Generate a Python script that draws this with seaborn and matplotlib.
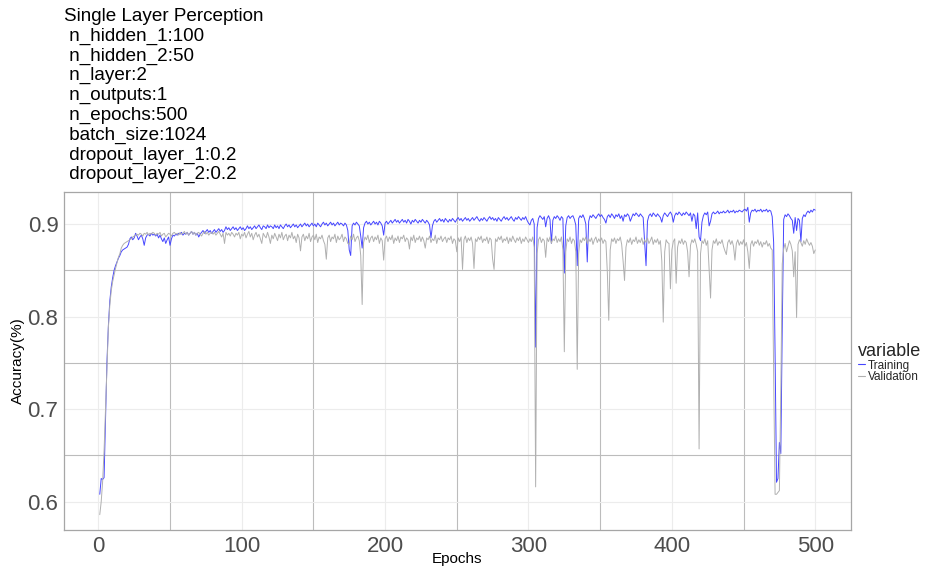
import numpy as np
import pandas as pd
import seaborn as sns
import matplotlib
matplotlib.use('Agg')
import matplotlib.pyplot as plt
from matplotlib.ticker import MultipleLocator
from matplotlib.lines import Line2D

title_lines = [
    'Single Layer Perception',
    ' n_hidden_1:100',
    ' n_hidden_2:50',
    ' n_layer:2',
    ' n_outputs:1',
    ' n_epochs:500',
    ' batch_size:1024',
    ' dropout_layer_1:0.2',
    ' dropout_layer_2:0.2',
]

epochs = list(range(1, 501))

# accuracy per epoch, in thousandths
train_acc = [
    608, 625, 624, 626, 690, 751, 790, 817, 832, 842, 850, 855, 859, 863, 866, 870, 872, 873, 874, 875,
    878, 884, 886, 883, 885, 890, 887, 883, 886, 888, 884, 877, 885, 888, 889, 887, 890, 888, 889, 887,
    889, 885, 888, 884, 881, 885, 879, 883, 886, 877, 884, 888, 887, 889, 888, 890, 889, 891, 888, 890,
    889, 891, 888, 890, 892, 889, 891, 888, 890, 886, 889, 891, 893, 890, 892, 894, 891, 893, 890, 892,
    894, 891, 893, 895, 892, 894, 891, 893, 897, 894, 896, 893, 895, 897, 894, 896, 893, 895, 897, 894,
    896, 893, 895, 898, 895, 897, 894, 896, 898, 895, 897, 899, 896, 894, 898, 897, 895, 899, 896, 898,
    897, 895, 899, 896, 898, 895, 899, 897, 895, 898, 900, 897, 899, 896, 898, 900, 897, 899, 896, 898,
    900, 897, 899, 901, 898, 900, 897, 899, 901, 898, 900, 897, 901, 899, 897, 900, 902, 899, 901, 898,
    900, 902, 899, 901, 898, 900, 902, 899, 901, 900, 898, 901, 899, 893, 872, 866, 898, 901, 899, 902,
    900, 898, 887, 874, 896, 901, 903, 900, 902, 899, 901, 903, 900, 902, 899, 903, 901, 898, 888, 901,
    903, 900, 902, 904, 901, 903, 905, 902, 904, 901, 903, 905, 902, 904, 901, 905, 903, 900, 904, 902,
    905, 903, 901, 904, 902, 905, 903, 901, 904, 902, 899, 885, 898, 903, 905, 902, 904, 906, 903, 905,
    902, 906, 904, 902, 905, 903, 906, 904, 902, 905, 907, 904, 906, 903, 905, 907, 904, 906, 903, 905,
    907, 904, 906, 908, 905, 903, 906, 904, 907, 905, 903, 906, 908, 905, 907, 904, 906, 903, 907, 905,
    903, 906, 908, 905, 907, 904, 906, 908, 905, 903, 907, 905, 908, 906, 904, 907, 905, 908, 904, 901,
    899, 904, 906, 900, 767, 896, 906, 909, 907, 905, 908, 897, 906, 909, 905, 879, 904, 908, 906, 909,
    907, 904, 908, 906, 847, 898, 907, 909, 906, 908, 909, 905, 899, 855, 906, 909, 907, 910, 906, 900,
    859, 903, 909, 907, 910, 908, 906, 909, 911, 908, 910, 907, 905, 901, 908, 910, 907, 911, 909, 906,
    910, 908, 911, 906, 909, 903, 910, 908, 911, 909, 903, 907, 911, 909, 912, 910, 908, 911, 909, 907,
    880, 855, 903, 909, 911, 908, 912, 910, 908, 911, 909, 907, 902, 909, 912, 910, 908, 911, 913, 910,
    902, 909, 912, 910, 913, 911, 909, 912, 910, 913, 911, 909, 912, 903, 911, 909, 895, 912, 886, 882,
    902, 909, 912, 910, 913, 898, 903, 911, 913, 911, 912, 914, 911, 913, 912, 914, 912, 913, 915, 912,
    914, 913, 915, 912, 914, 913, 915, 914, 913, 915, 916, 914, 918, 902, 912, 915, 914, 916, 913, 915,
    914, 916, 913, 915, 914, 916, 913, 915, 914, 908, 880, 760, 621, 625, 664, 652, 790, 905, 910, 908,
    911, 909, 906, 904, 890, 907, 893, 906, 904, 881, 906, 910, 908, 912, 914, 912, 915, 913, 916, 915,
]

val_acc = [
    586, 600, 622, 655, 700, 748, 788, 812, 828, 838, 845, 852, 858, 864, 868, 874, 877, 879, 880, 881,
    882, 883, 884, 886, 887, 888, 889, 888, 890, 889, 887, 890, 889, 891, 888, 890, 889, 891, 890, 888,
    890, 889, 891, 887, 889, 890, 886, 888, 890, 889, 887, 890, 891, 889, 890, 888, 891, 889, 890, 892,
    889, 891, 888, 890, 892, 889, 891, 888, 890, 891, 889, 887, 890, 892, 889, 891, 888, 890, 891, 889,
    891, 888, 890, 892, 889, 886, 890, 879, 891, 888, 890, 887, 891, 889, 886, 890, 888, 891, 884, 889,
    887, 891, 885, 889, 892, 886, 890, 883, 888, 891, 886, 889, 884, 879, 890, 887, 885, 891, 886, 879,
    888, 884, 890, 886, 882, 889, 885, 891, 883, 887, 889, 882, 888, 885, 891, 884, 887, 880, 889, 885,
    871, 886, 889, 882, 887, 884, 890, 881, 886, 888, 883, 889, 880, 886, 884, 888, 882, 878, 862, 885,
    888, 881, 886, 884, 889, 880, 887, 883, 885, 889, 881, 886, 884, 879, 878, 887, 883, 889, 881, 885,
    887, 882, 866, 813, 880, 886, 883, 888, 880, 885, 887, 881, 886, 883, 888, 879, 885, 882, 861, 884,
    887, 881, 886, 883, 888, 879, 885, 882, 887, 880, 886, 884, 888, 881, 885, 883, 873, 886, 882, 888,
    880, 885, 883, 887, 881, 886, 882, 874, 885, 883, 887, 880, 884, 882, 888, 879, 885, 883, 887, 881,
    884, 886, 880, 885, 883, 887, 879, 884, 882, 870, 885, 881, 886, 851, 883, 887, 880, 885, 882, 886,
    879, 852, 884, 881, 886, 883, 887, 880, 884, 882, 886, 879, 885, 883, 862, 851, 884, 881, 886, 883,
    887, 880, 884, 882, 886, 879, 885, 881, 887, 883, 880, 885, 882, 886, 879, 884, 881, 886, 883, 880,
    884, 881, 886, 875, 616, 868, 883, 886, 880, 884, 882, 864, 885, 881, 886, 879, 884, 882, 887, 880,
    884, 881, 886, 872, 762, 870, 884, 881, 886, 879, 884, 882, 870, 743, 868, 883, 880, 885, 882, 886,
    879, 884, 881, 885, 878, 883, 886, 880, 884, 881, 885, 879, 883, 881, 848, 796, 872, 884, 881, 885,
    879, 884, 882, 886, 878, 860, 839, 875, 883, 880, 885, 878, 883, 881, 886, 879, 883, 880, 885, 878,
    883, 880, 885, 879, 882, 886, 878, 883, 880, 884, 878, 882, 860, 794, 870, 883, 880, 879, 830, 872,
    881, 884, 836, 875, 882, 879, 884, 878, 882, 880, 870, 843, 877, 883, 880, 884, 878, 870, 657, 868,
    882, 879, 884, 877, 882, 850, 820, 872, 882, 879, 884, 877, 881, 879, 883, 876, 871, 867, 880, 883,
    878, 882, 876, 861, 879, 883, 877, 881, 878, 883, 876, 880, 870, 852, 878, 882, 876, 881, 879, 883,
    877, 881, 875, 880, 878, 882, 876, 879, 874, 872, 740, 608, 608, 610, 612, 720, 857, 873, 879, 870,
    876, 882, 878, 871, 843, 870, 799, 878, 883, 880, 876, 882, 878, 884, 880, 877, 880, 876, 868, 872,
]

series_names = ['Training', 'Validation']
series_colors = ['#4646ff', '#b0b0b0']

df = pd.DataFrame({
    'Epochs': epochs,
    'Training': np.array(train_acc) / 1000,
    'Validation': np.array(val_acc) / 1000,
})
long_df = df.melt(id_vars='Epochs', var_name='variable', value_name='Accuracy')

sns.set_theme(style='white')
plt.rcParams['font.family'] = ['Liberation Sans', 'DejaVu Sans']

fig = plt.figure(figsize=(9.29, 5.70), dpi=100)
ax = fig.add_axes([64 / 929, 40 / 570, 787 / 929, 338 / 570])

palette = dict(zip(series_names, series_colors))
sns.lineplot(data=long_df, x='Epochs', y='Accuracy', hue='variable',
             hue_order=series_names, palette=palette, estimator=None,
             linewidth=0.7, legend=False, ax=ax)

# ggplot-like expanded limits
xmin, xmax = min(epochs), max(epochs)
ymin, ymax = long_df['Accuracy'].min(), long_df['Accuracy'].max()
ax.set_xlim(xmin - 0.05 * (xmax - xmin), xmax + 0.05 * (xmax - xmin))
ax.set_ylim(ymin - 0.05 * (ymax - ymin), ymax + 0.05 * (ymax - ymin))

ax.xaxis.set_major_locator(MultipleLocator(100))
ax.xaxis.set_minor_locator(MultipleLocator(50))
ax.yaxis.set_major_locator(MultipleLocator(0.1))
ax.yaxis.set_minor_locator(MultipleLocator(0.05))
ax.yaxis.set_major_formatter(matplotlib.ticker.FormatStrFormatter('%.1f'))
ax.set_axisbelow(True)
ax.grid(which='major', color='#ececec', linewidth=0.8)
ax.grid(which='minor', color='#bcbcbc', linewidth=0.8)
ax.tick_params(which='both', length=0, labelsize=16, labelcolor='#4d4d4d', pad=4)
for s in ax.spines.values():
    s.set_color('#a6a6a6')
    s.set_linewidth(0.9)

ax.set_xlabel('Epochs', fontsize=11, color='black')
ax.set_ylabel('Accuracy(%)', fontsize=11, color='black')
ax.xaxis.set_label_coords(0.5, -0.066)
ax.yaxis.set_label_coords(-0.05, 0.5)

fig.text(64 / 929, 1 - 8 / 570, '\n'.join(title_lines), ha='left', va='top',
         fontsize=13.6, linespacing=1.2, color='black')

handles = [Line2D([], [], color=c, linewidth=0.8) for c in series_colors]
fig.legend(handles, series_names, title='variable', loc='center left',
           bbox_to_anchor=(858 / 929, 1 - 363 / 570), frameon=False,
           fontsize=8.5, title_fontsize=13, handlelength=0.6, handletextpad=0.25,
           labelspacing=0.0, borderpad=0, borderaxespad=0, alignment='left')

plt.savefig('out.png', dpi=100)
plt.close()
